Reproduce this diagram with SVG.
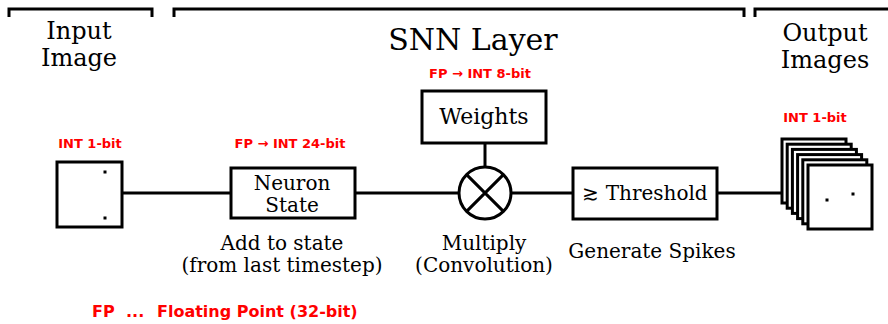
<svg xmlns="http://www.w3.org/2000/svg" width="888" height="324" viewBox="0 0 888 324">
  <style>
    .ln { fill: none; stroke: #000; stroke-width: 3; }
    .box { fill: #fff; stroke: #000; stroke-width: 3; }
    .t { font-family: "DejaVu Serif", serif; fill: #000; text-anchor: middle; }
    .red { font-family: "DejaVu Sans", sans-serif; font-weight: bold; fill: #f00; text-anchor: middle; font-size: 13px; }
    .legend { font-family: "DejaVu Sans", sans-serif; font-weight: bold; fill: #f00; font-size: 16px; }
    .dot { fill: #000; }
  </style>

  <!-- section brackets and headings -->
  <g id="headers">
    <path class="ln" d="M9,17 V9 H152 V17"/>
    <path class="ln" d="M174,17 V9 H744 V17"/>
    <path class="ln" d="M755,17 V9 H890"/>
    <text class="t" x="79" y="39" font-size="24">Input</text>
    <text class="t" x="79" y="66" font-size="24">Image</text>
    <text class="t" x="473" y="50" font-size="30">SNN Layer</text>
    <text class="t" x="825" y="41" font-size="24">Output</text>
    <text class="t" x="825" y="68" font-size="24">Images</text>
  </g>

  <!-- connectors -->
  <g id="connectors">
    <line class="ln" x1="122" y1="193" x2="231" y2="193"/>
    <line class="ln" x1="355" y1="193" x2="459" y2="193"/>
    <line class="ln" x1="511" y1="193" x2="573" y2="193"/>
    <line class="ln" x1="717" y1="193" x2="782" y2="193"/>
    <line class="ln" x1="485" y1="143" x2="485" y2="167"/>
  </g>

  <g id="input-image">
    <text class="red" x="90" y="148">INT 1-bit</text>
    <rect class="box" x="57" y="162" width="65" height="65"/>
    <rect class="dot" x="103.5" y="170.5" width="3" height="3"/>
    <rect class="dot" x="103.5" y="216.5" width="3" height="3"/>
  </g>

  <g id="neuron-state">
    <text class="red" x="290" y="148">FP → INT 24-bit</text>
    <rect class="box" x="231" y="168" width="124" height="50"/>
    <text class="t" x="292" y="190" font-size="20">Neuron</text>
    <text class="t" x="292" y="212" font-size="20">State</text>
    <text class="t" x="282" y="250" font-size="20">Add to state</text>
    <text class="t" x="282" y="272" font-size="20">(from last timestep)</text>
  </g>

  <g id="weights">
    <text class="red" x="480" y="78">FP → INT 8-bit</text>
    <rect class="box" x="422" y="91" width="124" height="52"/>
    <text class="t" x="484" y="124" font-size="22">Weights</text>
  </g>

  <g id="multiply">
    <circle class="box" cx="485" cy="193" r="26"/>
    <path class="ln" d="M466.6,174.6 L503.4,211.4 M503.4,174.6 L466.6,211.4"/>
    <text class="t" x="484" y="250" font-size="20">Multiply</text>
    <text class="t" x="484" y="272" font-size="20">(Convolution)</text>
  </g>

  <g id="threshold">
    <rect class="box" x="573" y="168" width="144" height="51"/>
    <text class="t" x="645" y="200" font-size="20">≳ Threshold</text>
    <text class="t" x="652" y="258" font-size="20">Generate Spikes</text>
  </g>

  <g id="output-images">
    <text class="red" x="815" y="122">INT 1-bit</text>
    <rect class="box" x="782" y="139" width="64" height="64"/>
    <rect class="box" x="787.2" y="144.2" width="64" height="64"/>
    <rect class="box" x="792.4" y="149.4" width="64" height="64"/>
    <rect class="box" x="797.6" y="154.6" width="64" height="64"/>
    <rect class="box" x="802.8" y="159.8" width="64" height="64"/>
    <rect class="box" x="808" y="165" width="64" height="64"/>
    <rect class="dot" x="825.5" y="198.5" width="3" height="3"/>
    <rect class="dot" x="851.5" y="192.5" width="3" height="3"/>
  </g>

  <g id="legend">
    <text class="legend" y="317"><tspan x="92">FP</tspan><tspan x="126">...</tspan><tspan x="157">Floating Point (32-bit)</tspan></text>
  </g>
</svg>
